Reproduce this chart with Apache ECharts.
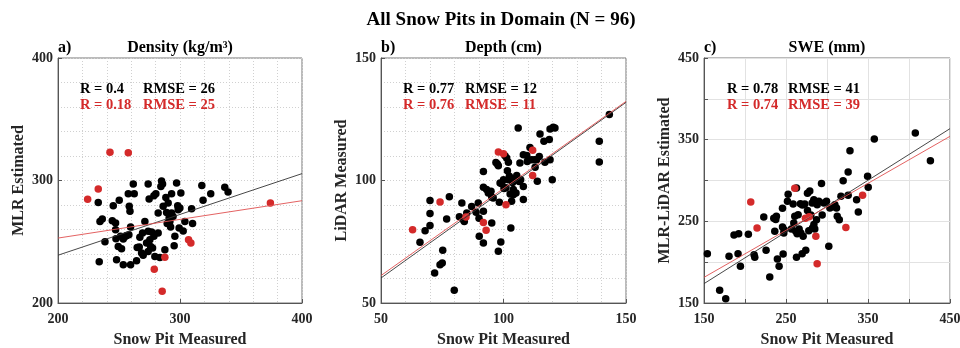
<!DOCTYPE html>
<html><head><meta charset="utf-8">
<script src="https://cdn.jsdelivr.net/npm/echarts@6/dist/echarts.min.js"></script>
<style>html,body{margin:0;padding:0;background:#fff}#c{width:960px;height:348px}</style>
</head><body><div id="c"></div>
<script>
// ---------- data ----------
const densBlack = [[233,282],[234.4,266.6],[236.3,268.6],[233.8,233.7],[238.5,250],[245.3,279.4],[244.5,267.2],[247.2,265.3],[250.2,283.8],[247.2,259.8],[247.5,252.5],[249.4,246.2],[248,235.3],[253.5,231.3],[251.3,254.4],[253.5,252.2],[255.4,254.4],[257.6,289.2],[258.4,278.9],[259,274.8],[259.5,231.3],[259.5,262],[258.1,255.8],[261.7,297.2],[262.5,289.2],[264.4,234.5],[264.9,245.4],[267.1,253.6],[268.5,240.8],[271.2,266.6],[269.8,238.9],[273.9,297.2],[274.7,284.9],[273.9,258.5],[275.3,251.7],[275.9,246.2],[277.5,244.9],[278.6,254.4],[279.4,238],[278.6,287.6],[280.2,289.2],[282.1,257.1],[282.1,273.5],[283.5,237.2],[284.9,299.6],[285.7,297.2],[284.3,295.2],[287.6,243.5],[288.4,286.2],[289.5,264.9],[289,273.9],[290.3,281.6],[291.7,266.6],[292.3,262],[293.1,273.5],[293.1,289.2],[295.8,254.4],[295.2,246.8],[297.2,298],[298.1,279.4],[298.5,276.2],[299.3,261.2],[299.9,277.6],[300.7,289.8],[302.6,258.8],[304,266.6],[310.3,264.8],[309.5,277],[317.9,296],[318.9,283.8],[325.2,289.2],[336.7,294.4],[339.4,290.6],[256.2,255.2],[252.1,244.3],[266.6,245.7],[272.6,249],[273.9,242.1],[276.7,258],[269.3,257.1],[291.1,269.4],[294.3,270.7],[286.2,278.9]];
const densRed = [[224.3,284.6],[233,293],[242.6,323],[257.6,322.7],[278.9,227.5],[285.4,209.5],[287.6,237.3],[307,251.7],[308.9,249],[374.1,281.6]];
const densFitBlack = [[200,239],[400,305.6]];
const densFitRed = [[200,253],[400,283.5]];

const depthBlack = [[65.9,74.8],[68,79.5],[70,81.6],[70,86.5],[70,91.8],[71.9,62.2],[74.1,65.6],[75,66.3],[75.2,71.5],[76.8,84.3],[77.9,93.4],[79.9,55.2],[82,85.2],[83,90.8],[83.6,84],[84,83.3],[85,86.7],[87,89.4],[88.8,87],[89.7,90.8],[90.1,77.2],[90,84.6],[91.8,103.7],[91.8,97.2],[91.8,87.4],[91.8,74.5],[93.1,96.3],[93.8,94.9],[94.9,95.6],[95.2,82.7],[95.8,92.9],[96.9,107.3],[97.5,106.7],[97.9,106],[97.9,71.1],[98.3,91.1],[98.6,99],[99.3,98.7],[98.9,74.9],[100,100.3],[100.2,96.7],[101,97],[100.6,110.1],[101.3,109.2],[102,107.4],[101.6,104],[102,100.3],[102.4,101.7],[102.7,94.5],[103,80.6],[103.3,91.5],[103.7,99.2],[104,96.3],[104.4,100.6],[105.1,94.9],[105.4,102],[106,121.4],[106.7,107.1],[107,100.3],[108.1,110.5],[108.1,97.6],[108.1,92.2],[109.5,110.2],[109.7,107.8],[110.8,113.5],[111.4,108.5],[112.6,108.5],[112.9,105.4],[113.5,108.5],[113.8,99.7],[114.6,109.8],[114.9,119],[116.5,116],[116.9,107.4],[118.7,116.7],[119,121],[119,108.5],[119.9,100.3],[120.3,121.7],[121,121.4],[139.1,116],[139.1,107.6],[143.2,126.9],[95.2,93.3],[104,94.2],[106.4,99.6]];
const depthRed = [[62.9,79.9],[74.1,91.2],[84.7,85.1],[91.8,82.9],[92.9,79.7],[97.9,111.6],[100,110.9],[101,90.1],[111.9,112.3],[111.9,102]];
const depthFitBlack = [[50,60.2],[150,131.9]];
const depthFitRed = [[50,61.2],[150,132.3]];

const sweBlack = [[154.1,210.4],[169.1,165.5],[176.5,155.3],[180.5,207.1],[186.6,233.3],[192.3,234.9],[191.5,210.4],[194.4,194.9],[204.1,234.1],[211.1,209.2],[211.9,205.9],[222.9,255.3],[225.7,214.5],[230.2,181.8],[235.1,253.7],[236.3,237.8],[237.5,252.2],[238.3,256.1],[239.5,203.9],[241.6,194.9],[245.7,265.9],[245.7,243.1],[247.7,239.8],[246.5,210],[247.3,235.7],[252.6,283.1],[251.8,274.5],[256.6,240.6],[258.7,271.2],[259.5,248],[260.7,256.1],[261.9,237.8],[262.8,290.8],[263.6,234.9],[262.8,205.9],[264.8,258.2],[266,240.6],[267.6,271.6],[268.1,235.7],[269.7,210.4],[270.9,231.6],[272.9,271.2],[274.1,214.5],[276.2,263.3],[276.2,284.3],[277.8,238.6],[279,287.1],[280.3,257.7],[281.9,272.4],[282.3,241.8],[283.9,276.5],[285.1,240.6],[287.2,252],[288,270.4],[290,274.5],[293.3,296.2],[294.1,257.7],[296.2,272.4],[299.4,274.5],[302.2,219.4],[303.5,266.3],[309.6,270.4],[311.6,266.3],[312.5,256.1],[315,252],[317,280.6],[319.7,299.8],[325.8,310.4],[325.8,281.8],[328,336.5],[336.1,276.5],[338.2,261.4],[349.5,305.1],[350.3,291.6],[357.7,350.8],[407.7,358.2],[426.1,324.3],[308,268],[284,246],[270,270]];
const sweRed = [[207,273.7],[214.7,241.8],[260.7,290.4],[273.7,253.7],[278.2,255.7],[286.4,231.6],[288,198.2],[323,242.3],[343.4,281.8]];
const sweFitBlack = [[150,173.7],[450,363.5]];
const sweFitRed = [[150,181.4],[450,354.1]];

const panelTitles = ['Density (kg/m\u00B3)', 'Depth (cm)', 'SWE (mm)'];
const panelLetters = ['a)', 'b)', 'c)'];
const yNames = ['MLR Estimated', 'LiDAR Measured', 'MLR-LiDAR Estimated'];
const xName = 'Snow Pit Measured';
const statsBlack = [['R = 0.4', 'RMSE = 26'], ['R = 0.77', 'RMSE = 12'], ['R = 0.78', 'RMSE = 41']];
const statsRed = [['R = 0.18', 'RMSE = 25'], ['R = 0.76', 'RMSE = 11'], ['R = 0.74', 'RMSE = 39']];
const axisRanges = [[200, 400, 100], [50, 150, 50], [150, 450, 50]];
const mainTitle = 'All Snow Pits in Domain (N = 96)';

// ---------- layout ----------
const FONT = '"Liberation Serif", "Times New Roman", serif';
const RED = '#d42a2a';
const grids = [
  {left: 58, top: 58, width: 244, height: 245},
  {left: 381, top: 58, width: 245, height: 245},
  {left: 704, top: 58, width: 246, height: 245}
];
const statX = [[80, 143], [403, 465], [727, 788]];

const chart = echarts.init(document.getElementById('c'), null, {renderer: 'canvas'});

function makeAxis(i, isX) {
  const [mn, mx, iv] = axisRanges[i];
  const dotted = i < 2;
  const ax = {
    type: 'value', gridIndex: i, min: mn, max: mx, interval: iv,
    axisLine: {show: true, onZero: false, lineStyle: {color: '#555', width: 1}},
    axisTick: {show: true, inside: true, length: 4, lineStyle: {color: '#555'}},
    axisLabel: {
      show: true, showMinLabel: true, showMaxLabel: true,
      color: '#262626', fontFamily: FONT, fontWeight: 'bold', fontSize: 14,
      margin: isX ? 9 : 5,
      formatter: (v) => (i === 2 ? (((v - 150) % 100 === 0) ? String(v) : '') : String(v))
    },
    splitLine: {show: true, lineStyle: dotted ? {color: '#d0d0d0', type: [1, 2], width: 1} : {color: '#e2e2e2', width: 1}},
    name: isX ? xName : yNames[i],
    nameLocation: 'middle',
    nameGap: isX ? 29 : 31,
    nameTextStyle: {color: '#262626', fontFamily: FONT, fontWeight: 'bold', fontSize: 16}
  };
  if (dotted) {
    ax.minorTick = {show: false, splitNumber: 5};
    ax.minorSplitLine = {show: true, lineStyle: {color: '#d0d0d0', type: [1, 2], width: 1}};
  }
  return ax;
}

const blacks = [densBlack, depthBlack, sweBlack];
const reds = [densRed, depthRed, sweRed];
const fitsB = [densFitBlack, depthFitBlack, sweFitBlack];
const fitsR = [densFitRed, depthFitRed, sweFitRed];

const series = [];
for (let i = 0; i < 3; i++) {
  series.push({type: 'scatter', xAxisIndex: i, yAxisIndex: i, data: blacks[i], symbolSize: 7.5,
    itemStyle: {color: '#000', opacity: 1}, silent: true, z: 2});
  series.push({type: 'scatter', xAxisIndex: i, yAxisIndex: i, data: reds[i], symbolSize: 7.5,
    itemStyle: {color: RED, opacity: 1}, silent: true, z: 3});
  series.push({type: 'line', xAxisIndex: i, yAxisIndex: i, data: fitsB[i], showSymbol: false,
    lineStyle: {color: '#333', width: 0.9}, silent: true, z: 4});
  series.push({type: 'line', xAxisIndex: i, yAxisIndex: i, data: fitsR[i], showSymbol: false,
    lineStyle: {color: '#e05050', width: 0.9}, silent: true, z: 4});
}

const graphic = [];
function txt(text, x, y, size, color, align) {
  graphic.push({type: 'text', x: x, y: y, silent: true, z: 100,
    style: {text: text, fill: color, font: 'bold ' + size + 'px ' + FONT,
      textAlign: align, textVerticalAlign: 'middle', align: align, verticalAlign: 'middle'}});
}
txt(mainTitle, 501, 20, 19, '#000', 'center');
for (let i = 0; i < 3; i++) {
  const g = grids[i];
  txt(panelTitles[i], g.left + g.width / 2, 48, 16, '#000', 'center');
  txt(panelLetters[i], g.left, 48, 16, '#000', 'left');
  txt(statsBlack[i][0], statX[i][0], 89, 14.5, '#000', 'left');
  txt(statsBlack[i][1], statX[i][1], 89, 14.5, '#000', 'left');
  txt(statsRed[i][0], statX[i][0], 105, 14.5, RED, 'left');
  txt(statsRed[i][1], statX[i][1], 105, 14.5, RED, 'left');
}

chart.setOption({
  animation: false,
  backgroundColor: '#fff',
  grid: grids.map(g => Object.assign({show: true, borderColor: '#777', borderWidth: 1, backgroundColor: 'transparent', containLabel: false, outerBoundsMode: 'none'}, g)),
  xAxis: [0, 1, 2].map(i => makeAxis(i, true)),
  yAxis: [0, 1, 2].map(i => makeAxis(i, false)),
  series: series,
  graphic: graphic
});
</script>
</body></html>
